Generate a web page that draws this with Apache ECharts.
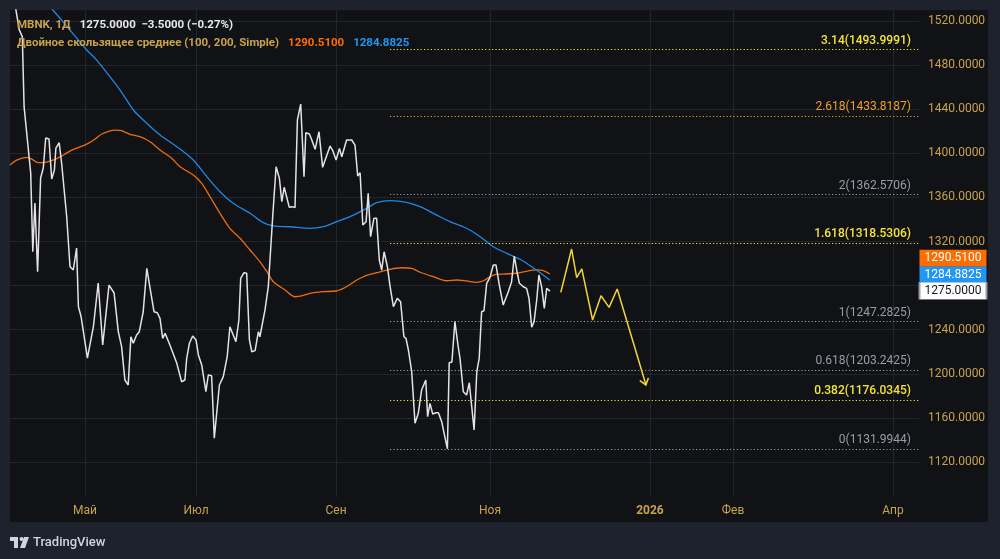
<!DOCTYPE html>
<html><head><meta charset="utf-8">
<script src="https://cdn.jsdelivr.net/npm/echarts@6/dist/echarts.min.js"></script>
<style>html,body{margin:0;padding:0;background:#1e222d}#c{width:1000px;height:559px}</style>
</head><body><div id="c"></div><script>
// x values are bar positions (trading-bar index along the time scale)
const monthPos = [25, 62, 108.7, 160, 213.3, 241, 294.3];
const monthLabels = ['Май', 'Июл', 'Сен', 'Ноя', '2026', 'Фев', 'Апр'];
const priceTicks = [1120, 1160, 1200, 1240, 1280, 1320, 1360, 1400, 1440, 1480, 1520];

const closeSeries = [
[1.7,1534.5],[3.1,1511.8],[4.1,1505.8],[4.7,1442.3],[5.8,1412.1],[6.9,1382.1],[7.6,1310.7],[8.3,1354.9],[9.2,1292.6],[10.2,1377.6],[11.1,1386.7],[11.9,1413.9],[13,1413.0],[13.9,1376.7],[14.8,1384.9],[15.3,1404.8],[16.4,1409.6],[17.2,1391.2],[18.9,1342.5],[20,1297.1],[21.1,1294.2],[22.2,1314.1],[22.8,1260.9],[23.7,1251.8],[25.8,1214.3],[27.8,1242.7],[29.4,1282.4],[30.9,1226.1],[33,1280.5],[34.7,1273.3],[36.1,1238.2],[37.2,1224.6],[38.3,1194.4],[39.4,1189.8],[40.3,1233.6],[41.1,1227.7],[42.2,1235.2],[43.1,1238.2],[44.4,1256.3],[45.6,1295.7],[46.7,1277.5],[48,1256.3],[49.1,1255.4],[50,1250.3],[50.9,1232.2],[51.7,1236.7],[53.3,1226.1],[55.6,1209.5],[57.2,1192.8],[58.3,1194.4],[58.9,1214.1],[59.8,1227.7],[60.9,1234.3],[62,1230.7],[62.8,1217.1],[63.9,1208.0],[65.3,1183.8],[66.1,1198.9],[67.2,1198.3],[68.1,1141.5],[69.8,1189.8],[71.1,1197.4],[72.4,1215.5],[73.3,1242.7],[75.3,1229.1],[76.3,1248.8],[76.9,1286.6],[78,1291.7],[78.9,1291.2],[79.8,1230.7],[80.6,1220.0],[81.7,1221.0],[82.8,1238.2],[83.3,1233.6],[85,1257.9],[86.1,1279.0],[87.6,1344.0],[88.7,1387.8],[89.8,1377.3],[90.6,1356.1],[91.4,1369.2],[93.1,1351.0],[94.2,1351.6],[95,1350.7],[95.8,1430.2],[96.9,1444.7],[98,1378.8],[98.6,1418.7],[99.8,1417.5],[100.6,1412.1],[101.7,1403.6],[103,1419.6],[104.2,1387.3],[106.7,1406.6],[107.6,1402.4],[108.7,1393.9],[109.8,1404.5],[110.6,1396.9],[112.2,1412.1],[113.9,1412.1],[115,1407.5],[115.9,1379.4],[116.7,1382.4],[117.6,1335.0],[118.7,1338.0],[119.4,1363.7],[120.2,1324.4],[121.3,1341.0],[122.2,1341.0],[123.1,1303.2],[123.9,1294.1],[124.7,1310.7],[125.8,1297.1],[126.7,1279.0],[127.8,1260.9],[129.1,1268.5],[130.2,1265.4],[131.3,1233.6],[132,1232.2],[132.8,1221.6],[133.9,1201.9],[135,1155.1],[136.1,1164.2],[137.2,1185.3],[138.6,1194.4],[139.2,1161.1],[140,1173.2],[140.9,1163.5],[142,1164.7],[142.8,1164.7],[143.9,1156.6],[144.7,1146.0],[145.8,1132.0],[146.4,1210.1],[147.3,1210.7],[148.3,1247.3],[149.4,1224.6],[150,1214.1],[151.1,1183.8],[152.2,1180.8],[153.1,1191.9],[154.7,1149.0],[155.6,1201.9],[156.4,1214.1],[157.2,1256.3],[158,1257.2],[158.9,1282.1],[160,1287.5],[161.1,1298.7],[162,1298.7],[163,1282.1],[164.4,1262.4],[166.1,1274.5],[167.2,1283.5],[168.1,1306.8],[169.1,1291.2],[169.8,1282.1],[171.1,1279.0],[172.2,1277.5],[173,1268.5],[173.9,1242.2],[174.7,1247.3],[175.6,1267.6],[176.3,1289.6],[177.2,1279.0],[178.1,1259.4],[178.9,1277.5],[180,1275.0]
];

const ma100Series = [
[0,1389.4],[2.2,1393.9],[5.6,1396.4],[7.8,1393.9],[9.4,1391.5],[12.2,1392.1],[15,1394.5],[17.8,1398.5],[21.1,1403.5],[25.6,1408.4],[28.3,1412.7],[30.6,1417.5],[35,1421.1],[37.2,1420.5],[40,1417.2],[43.3,1415.1],[46.7,1410.5],[50,1403.0],[53.9,1395.5],[56.7,1387.8],[61.1,1380.3],[63.9,1372.8],[66.7,1360.6],[70,1345.6],[73.3,1331.9],[76.7,1322.9],[80,1312.3],[83.3,1301.7],[85.6,1292.6],[87.8,1283.5],[91.7,1276.0],[95,1269.9],[97.2,1270.6],[100,1273.0],[104.4,1274.5],[108.7,1275.1],[112.2,1279.0],[115.6,1285.1],[118.3,1288.7],[122.2,1291.7],[126.7,1294.8],[130.6,1296.2],[133.9,1295.7],[136.7,1292.1],[141.1,1288.1],[145.6,1284.4],[148.9,1285.1],[152.2,1284.2],[155.6,1283.0],[157.8,1284.4],[161.1,1289.6],[164.4,1290.5],[168.9,1291.2],[172.2,1293.0],[175.6,1294.2],[177.8,1293.6],[180,1290.51]
];

const ma200Series = [
[7.7,1550.8],[14.3,1530],[20,1511.8],[25.6,1493.7],[28.9,1484.6],[33.3,1469.5],[36.7,1457.4],[41.1,1439.3],[43.3,1433.2],[45.6,1427.2],[50,1416.6],[55.6,1406.0],[61.1,1393.9],[65.6,1378.8],[70,1365.2],[74.4,1354.7],[80,1345.6],[84.4,1337.1],[87.8,1334.1],[93.3,1333.4],[100,1332.0],[104.4,1333.4],[108.9,1338.0],[113.3,1342.5],[118.9,1350.1],[122.2,1355.2],[126.7,1357.0],[132.2,1355.6],[136.7,1351.6],[142.2,1344.0],[146.7,1338.0],[152.2,1332.0],[156.7,1324.4],[161.1,1315.3],[165.6,1309.3],[170,1303.9],[173.9,1297.1],[176.7,1291.7],[180,1284.8825]
];

const projectionSeries = [
[183.6,1273.9],[187.2,1313.2],[188.9,1287.2],[190.6,1295.1],[194.2,1248.8],[197,1270.8],[199.7,1260.3],[202.4,1276.9],[212,1189.8]
];

const fibLevels = ['0', '0.382', '0.618', '1', '1.618', '2', '2.618', '3.14'];
const fibValues = [1131.9944, 1176.0345, 1203.2425, 1247.2825, 1318.5306, 1362.5706, 1433.8187, 1493.9991];
const fibStartX = 126.67;

// styles
const GOLD = '#c9a24a';
const FONT = 'Roboto, "Noto Sans", sans-serif';
const fibColorOf = {'0':'#9a9da5','0.382':'#f4e43a','0.618':'#9a9da5','1':'#9a9da5','1.618':'#f4e43a','2':'#9a9da5','2.618':'#f0a028','3.14':'#f4e43a'};
const X_MAX = 303;

const fibData = fibLevels.map((lv, i) => [
  {coord: [fibStartX, fibValues[i]], lineStyle: {color: fibColorOf[lv]},
   label: {color: fibColorOf[lv], formatter: lv + '(' + fibValues[i].toFixed(4) + ')',
     fontWeight: fibColorOf[lv] === '#f4e43a' ? 500 : 'normal'}},
  {coord: [X_MAX, fibValues[i]]}
]);

function lastOf(a) { return a[a.length - 1]; }
function tag(series, bg, fg, dy, border) {
  const p = lastOf(series);
  return {
    symbol: 'rect', symbolSize: [67, 17], silent: true, animation: false,
    itemStyle: {color: bg, borderColor: border || bg, borderWidth: border ? 1 : 0},
    label: {show: true, position: 'inside', color: fg, fontSize: 12, fontFamily: FONT, formatter: p[1].toFixed(4)},
    data: [{coord: [X_MAX, p[1]], symbolOffset: [34, dy]}]
  };
}

const projData = projectionSeries.map((p, i) => {
  if (i === projectionSeries.length - 1) {
    return {value: p, symbol: 'path://M0,0 L5,6 L10,0', symbolSize: [9, 6], symbolRotate: 17,
      symbolOffset: [-1, -3],
      itemStyle: {color: 'rgba(0,0,0,0)', borderColor: '#f0d43a', borderWidth: 1.4}};
  }
  return {value: p, symbol: 'none'};
});

const chart = echarts.init(document.getElementById('c'));
chart.setOption({
  backgroundColor: '#1e222d',
  animation: false,
  textStyle: {fontFamily: FONT},
  graphic: [
    {type: 'rect', z: -100, silent: true, shape: {x: 10, y: 10, width: 978, height: 512}, style: {fill: '#101216'}},
    {type: 'group', left: 10, top: 537, children: [
      {type: 'rect', shape: {x: 0, y: 0, width: 8, height: 4}, style: {fill: '#d1d4dc'}},
      {type: 'rect', shape: {x: 4, y: 0, width: 4, height: 11}, style: {fill: '#d1d4dc'}},
      {type: 'circle', shape: {cx: 11.5, cy: 2, r: 2}, style: {fill: '#d1d4dc'}},
      {type: 'polygon', shape: {points: [[14, 0], [19, 0], [15, 11], [10, 11]]}, style: {fill: '#d1d4dc'}}
    ]},
    {type: 'text', left: 33, top: 536, style: {text: 'TradingView', fill: '#d1d4dc', font: '500 13px ' + FONT}}
  ],
  title: {
    left: 17, top: 16, padding: 0,
    text: '{a|MBNK, 1Д}  {w|1275.0000  −3.5000 (−0.27%)}\n{a|Двойное скользящее среднее (100, 200, Simple)}  {o|1290.5100}  {b|1284.8825}',
    textStyle: {
      rich: {
        a: {color: GOLD, fontSize: 11.5, lineHeight: 17, fontFamily: FONT},
        w: {color: '#e8e8e8', fontSize: 11.5, lineHeight: 17, fontFamily: FONT},
        o: {color: '#ff6d00', fontSize: 11.5, lineHeight: 17, fontFamily: FONT},
        b: {color: '#2196f3', fontSize: 11.5, lineHeight: 17, fontFamily: FONT}
      }
    }
  },
  grid: {left: 10, right: 81, top: 10, bottom: 62},
  xAxis: {
    type: 'value', min: 0, max: X_MAX,
    axisLine: {show: false},
    axisTick: {show: false, customValues: monthPos},
    splitLine: {show: true, lineStyle: {color: '#22252d', width: 1}},
    axisLabel: {
      customValues: monthPos, color: GOLD, fontSize: 12, margin: 8, fontFamily: FONT,
      formatter: v => {
        const i = monthPos.findIndex(p => Math.abs(p - v) < 0.01);
        if (i < 0) return '';
        const t = monthLabels[i];
        return /^\d{4}$/.test(t) ? '{y|' + t + '}' : t;
      },
      rich: {y: {color: GOLD, fontSize: 12, fontWeight: 'bold', fontFamily: FONT}}
    }
  },
  yAxis: {
    type: 'value', position: 'right', min: 1088.25, max: 1530,
    axisLine: {show: false},
    axisTick: {show: false, customValues: priceTicks},
    splitLine: {show: true, lineStyle: {color: '#22252d', width: 1}},
    axisLabel: {customValues: priceTicks, color: GOLD, fontSize: 12, margin: 9, fontFamily: FONT,
      formatter: v => v.toFixed(4)}
  },
  series: [
    {
      name: 'fib', type: 'line', data: [], silent: true,
      markLine: {
        silent: true, symbol: ['none', 'none'], animation: false,
        lineStyle: {type: [1.2, 2.2], width: 1},
        label: {position: 'insideEndTop', fontSize: 12, fontFamily: FONT, distance: [8, 3]},
        data: fibData
      }
    },
    {
      name: 'SMA100', type: 'line', data: ma100Series, symbol: 'none', smooth: 0.3,
      lineStyle: {color: '#ef6c0c', width: 1.3}, z: 3,
      markPoint: tag(ma100Series, '#ff6d00', '#ffffff', -15.7)
    },
    {
      name: 'SMA200', type: 'line', data: ma200Series, symbol: 'none', smooth: 0.3,
      lineStyle: {color: '#1e88e5', width: 1.3}, z: 4,
      markPoint: tag(ma200Series, '#2196f3', '#ffffff', -5.2)
    },
    {
      name: 'Close', type: 'line', data: closeSeries, symbol: 'none',
      lineStyle: {color: '#e4e4e4', width: 1.5}, z: 5,
      markPoint: tag(closeSeries, '#ffffff', '#131722', -0.3, '#9a9da5')
    },
    {
      name: 'Projection', type: 'line', data: projData, showSymbol: true,
      lineStyle: {color: '#f0d43a', width: 1.5}, z: 6
    }
  ]
});
</script></body></html>
